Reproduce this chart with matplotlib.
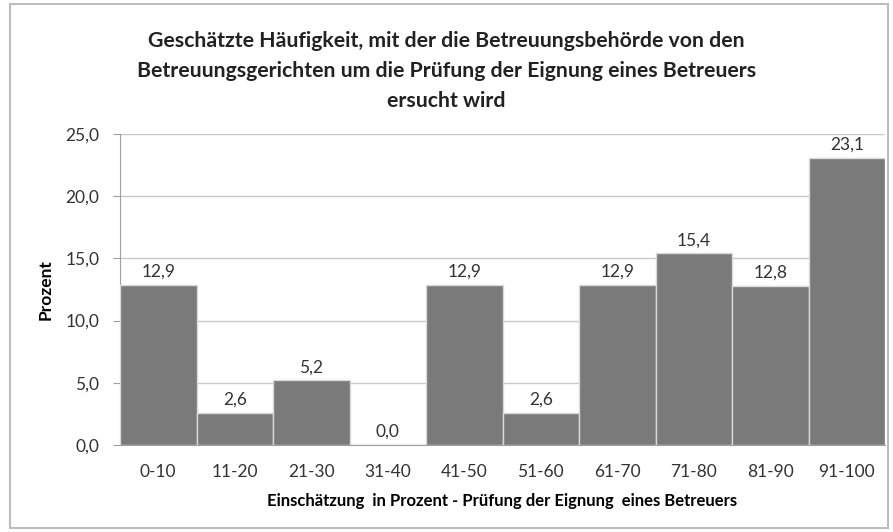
import matplotlib.pyplot as plt
from matplotlib.patches import Rectangle

plt.rcParams['font.family'] = ['Lato', 'DejaVu Sans']

categories = ['0-10', '11-20', '21-30', '31-40', '41-50', '51-60',
              '61-70', '71-80', '81-90', '91-100']
values = [12.9, 2.6, 5.2, 0.0, 12.9, 2.6, 12.9, 15.4, 12.8, 23.1]
yticks = [0, 5, 10, 15, 20, 25]

W, H = 893, 532
fig = plt.figure(figsize=(W / 100, H / 100), dpi=100)
fig.patches.append(Rectangle((10 / W, 4 / H), 878 / W, 524 / H,
                             transform=fig.transFigure, fill=False,
                             edgecolor='#bdbdbd', lw=1.5))

ax = fig.add_axes([120 / W, (H - 445) / H, 765 / W, 311 / H])
x = range(len(categories))
bars = ax.bar(x, values, width=1.0, color='#7a7a7a', edgecolor='#d9d9d9',
              lw=1.0, zorder=3)
for xi, v in zip(x, values):
    ax.text(xi, v + 0.4, f'{v:.1f}'.replace('.', ','), ha='center',
            va='bottom', fontsize=12.5, color='#333333')

ax.set_xlim(-0.5, len(categories) - 0.5)
ax.set_ylim(0, 25)
ax.set_yticks(yticks)
ax.set_yticklabels([f'{t:.1f}'.replace('.', ',') for t in yticks],
                   fontsize=12.5, color='#333333')
ax.set_xticks(list(x))
ax.set_xticklabels(categories, fontsize=12.5, color='#333333')
ax.tick_params(axis='x', length=0, pad=14)
ax.tick_params(axis='y', length=5, color='#a0a0a0', pad=10)
ax.grid(axis='y', color='#c8c8c8', lw=1.0, zorder=0)
for s in ['top', 'right']:
    ax.spines[s].set_visible(False)
for s in ['left', 'bottom']:
    ax.spines[s].set_color('#a0a0a0')

ax.set_ylabel('Prozent', fontsize=12.5, fontweight='bold', labelpad=8)
ax.set_xlabel('Einschätzung  in Prozent - Prüfung der Eignung  eines Betreuers',
              fontsize=12, fontweight='bold', labelpad=9)

fig.text(0.5, (H - 71) / H,
         'Geschätzte Häufigkeit, mit der die Betreuungsbehörde von den\n'
         'Betreuungsgerichten um die Prüfung der Eignung eines Betreuers\n'
         'ersucht wird',
         ha='center', va='center', fontsize=15.3, fontweight='bold',
         linespacing=1.6, color='#222222')

fig.savefig('out.png', dpi=100)
